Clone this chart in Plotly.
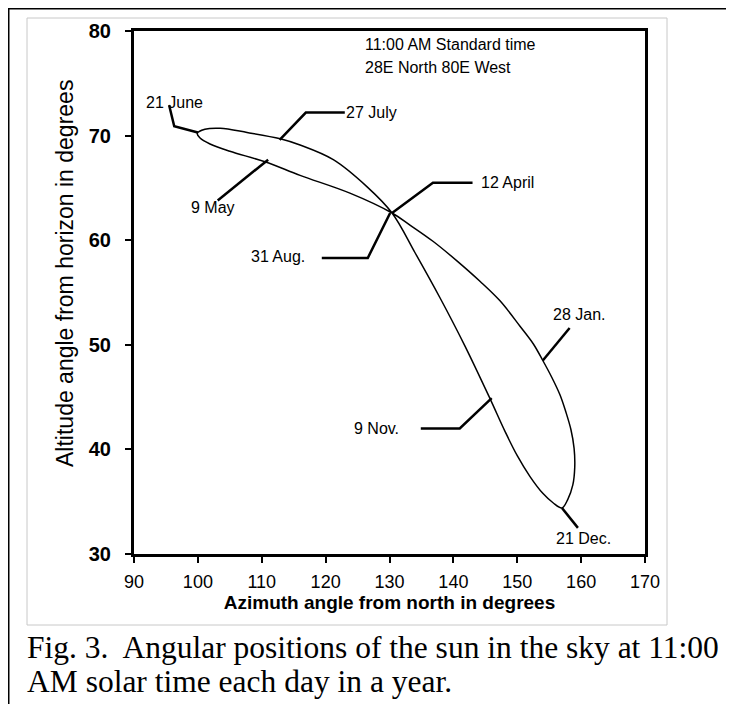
import plotly.graph_objects as go

# ---- Data: sun position at 11:00 through the year ----
# Path: right branch of lower loop (Jan -> Apr), lower branch of upper loop (Apr -> Jun),
# upper branch of upper loop (Jun -> Aug), left branch of lower loop (Sep -> Dec)
azimuth = [157.0, 157.9, 158.7, 159.0, 158.9, 158.4, 157.6, 156.7, 155.4, 154.0, 152.5, 150.4, 147.3,
           144.2, 140.6, 136.8, 133.2, 130.4,
           123.8, 116.0, 110.5, 105.0, 101.9, 100.3, 99.9,
           101.1, 103.5, 107.7, 112.9, 116.0, 121.2, 126.5, 130.4,
           134.0, 137.9, 141.8, 145.7, 148.1, 150.0, 152.0, 154.0, 155.6, 157.0]
altitude = [34.4, 35.2, 36.6, 38.3, 40.1, 41.9, 43.6, 45.2, 46.9, 48.5, 50.1, 51.8, 54.2,
            56.05, 58.0, 59.9, 61.45, 62.6,
            64.5, 66.2, 67.5, 68.5, 69.2, 69.8, 70.2,
            70.6, 70.7, 70.3, 69.7, 69.1, 67.7, 65.1, 62.6,
            58.8, 54.5, 49.9, 44.9, 41.7, 39.4, 37.4, 35.8, 34.9, 34.4]

# Date labels, label anchor (text start) and leader paths (azimuth, altitude)
date_labels = ["21 June", "27 July", "9 May", "12 April", "31 Aug.", "28 Jan.", "9 Nov.", "21 Dec."]
label_az = [91.7, 123.0, 98.8, 144.1, 108.2, 155.4, 124.3, 155.9]
label_alt = [73.2, 72.2, 63.1, 65.5, 58.4, 52.9, 42.0, 31.5]
leader_az = [[95.5, 96.3, 100.0], [123.0, 116.9, 112.8], [103.1, 111.0], [143.0, 136.8, 130.4],
             [119.4, 126.6, 130.1], [158.2, 154.0], [134.9, 141.0, 146.0], [159.5, 157.0]]
leader_alt = [[72.9, 70.9, 70.3], [72.2, 72.2, 69.6], [63.8, 67.7], [65.5, 65.5, 62.6],
              [58.3, 58.3, 62.6], [51.6, 48.5], [42.0, 42.0, 44.9], [32.5, 34.4]]

x_ticks = [90, 100, 110, 120, 130, 140, 150, 160, 170]
y_ticks = [30, 40, 50, 60, 70, 80]

note_lines = ["11:00 AM Standard time", "28E North 80E West"]
caption_lines = ["Fig. 3.&nbsp; Angular positions of the sun in the sky at 11:00",
                 "AM solar time each day in a year."]

# ---- Layout geometry (figure pixels; page shows figure shifted by 8px body margin) ----
W, H = 734, 704
SHIFT = 8
L, R, T, B = 134 - SHIFT, 645 - SHIFT, 31 - SHIFT, 554 - SHIFT   # plot area edges


def px(xs):
    """screen x -> paper x"""
    return (xs - SHIFT - L) / (R - L)


def py(ys):
    """screen y -> paper y"""
    return (B - (ys - SHIFT)) / (B - T)


SANS = "Liberation Sans, Arial, sans-serif"
SERIF = "Liberation Serif, Times New Roman, serif"

fig = go.Figure()

fig.add_trace(go.Scatter(x=azimuth, y=altitude, mode="lines",
                         line=dict(color="black", width=1.5, shape="spline", smoothing=1.0),
                         hoverinfo="skip", showlegend=False))

for lx, ly in zip(leader_az, leader_alt):
    fig.add_trace(go.Scatter(x=lx, y=ly, mode="lines", line=dict(color="black", width=2.5),
                             hoverinfo="skip", showlegend=False))

annotations = []
for t, ax, ay in zip(date_labels, label_az, label_alt):
    annotations.append(dict(x=ax, y=ay, xref="x", yref="y", text=t, showarrow=False,
                            xanchor="left", yanchor="middle", borderpad=0,
                            font=dict(family=SANS, size=16, color="black")))

annotations.append(dict(x=125.8, y=78.7, xref="x", yref="y", text=note_lines[0], showarrow=False,
                        xanchor="left", yanchor="middle", font=dict(family=SANS, size=16, color="black")))
annotations.append(dict(x=125.8, y=76.5, xref="x", yref="y", text=note_lines[1], showarrow=False,
                        xanchor="left", yanchor="middle", font=dict(family=SANS, size=16, color="black")))

# y axis title
annotations.append(dict(x=px(65), y=py(274), xref="paper", yref="paper",
                        text="Altitude angle from horizon in degrees", showarrow=False, textangle=-90,
                        xanchor="center", yanchor="middle",
                        font=dict(family=SANS, size=23, color="black")))

# caption
annotations.append(dict(x=px(25), y=py(647), xref="paper", yref="paper", text=caption_lines[0],
                        showarrow=False, xanchor="left", yanchor="middle",
                        font=dict(family=SERIF, size=31.5, color="black")))
annotations.append(dict(x=px(25), y=py(681), xref="paper", yref="paper", text=caption_lines[1],
                        showarrow=False, xanchor="left", yanchor="middle",
                        font=dict(family=SERIF, size=31.5, color="black")))

shapes = [
    # light grey chart frame
    dict(type="rect", xref="paper", yref="paper", x0=px(27), x1=px(667), y0=py(625), y1=py(18),
         line=dict(color="#c8c8c8", width=1), layer="below"),
    # outer black border (top and left visible)
    dict(type="line", xref="paper", yref="paper", x0=px(SHIFT), x1=px(W + SHIFT + 5),
         y0=py(SHIFT), y1=py(SHIFT), line=dict(color="black", width=3)),
    dict(type="line", xref="paper", yref="paper", x0=px(SHIFT), x1=px(SHIFT),
         y0=py(SHIFT), y1=py(H + SHIFT + 5), line=dict(color="black", width=3)),
]

fig.update_layout(
    width=W, height=H,
    margin=dict(l=L, r=W - R, t=T, b=H - B, pad=0),
    paper_bgcolor="white", plot_bgcolor="white",
    showlegend=False,
    annotations=annotations,
    shapes=shapes,
)

fig.update_xaxes(range=[90, 170], tickvals=x_ticks, ticks="outside", ticklen=6, tickwidth=2,
                 tickcolor="black", showline=True, linewidth=3, linecolor="black", mirror=True,
                 showgrid=False, zeroline=False,
                 tickfont=dict(family=SANS, size=18, color="black"), ticklabelstandoff=3,
                 title=dict(text="Azimuth angle from north in degrees", standoff=4,
                            font=dict(family=SANS, size=19, color="black", weight="bold")))
fig.update_yaxes(range=[30, 80], tickvals=y_ticks, ticks="outside", ticklen=6, tickwidth=2,
                 tickcolor="black", showline=True, linewidth=3, linecolor="black", mirror=True,
                 showgrid=False, zeroline=False,
                 tickfont=dict(family=SANS, size=20, color="black", weight="bold"), ticklabelstandoff=10)

fig.write_html("out.html")
